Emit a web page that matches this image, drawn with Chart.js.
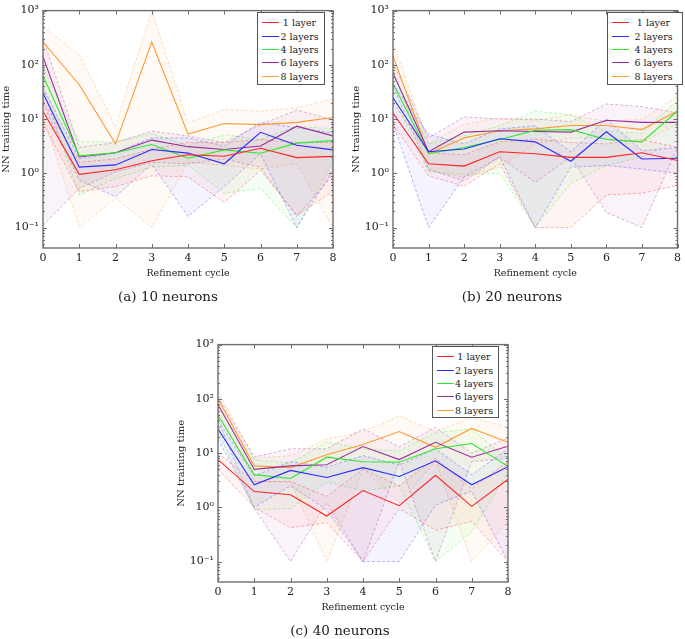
<!DOCTYPE html>
<html>
<head>
<meta charset="utf-8">
<script src="https://cdn.jsdelivr.net/npm/chart.js@4.4.1/dist/chart.umd.min.js"></script>
<style>
  body { margin: 0; background: #fff; width: 685px; height: 639px; position: relative; overflow: hidden; font-family: "DejaVu Serif", serif; color: #222; }
  canvas { position: absolute; }
  .cap { position: absolute; font-size: 13.5px; transform: translateX(-50%); white-space: nowrap; }
  .legend { position: absolute; border: 1px solid #555; background: #fff; font-size: 9.5px; box-sizing: border-box; padding: 3px 4px; }
  .legend .row { height: 13.4px; display: flex; align-items: center; }
  .legend .ln { width: 17px; height: 0; border-top: 1.2px solid; flex: none; }
  .legend .tx { flex: 1; text-align: center; }
</style>
</head>
<body>
<canvas id="c10" width="345" height="290" style="left:0;top:0"></canvas>
<canvas id="c20" width="335" height="290" style="left:350px;top:0"></canvas>
<canvas id="c40" width="345" height="290" style="left:175px;top:334px"></canvas>
<div class="cap" style="left:168px;top:288px">(a) 10 neurons</div>
<div class="cap" style="left:512px;top:288px">(b) 20 neurons</div>
<div class="cap" style="left:340px;top:622px">(c) 40 neurons</div>
<div class="legend" id="lg10" style="left:257px;top:12px;width:68px;height:73px"></div>
<div class="legend" id="lg20" style="left:607px;top:12px;width:76px;height:73px"></div>
<div class="legend" id="lg40" style="left:432px;top:346px;width:67px;height:72px"></div>
<script>
// refinement cycles on the x-axis
var cycles = [0, 1, 2, 3, 4, 5, 6, 7, 8];
var layerLabels = ["1 layer", "2 layers", "4 layers", "6 layers", "8 layers"];
var layerColors = ["#ff2424", "#2a2aff", "#2ee82e", "#9c2c9c", "#ff9a33"];
var yTickValues = [0.1, 1, 10, 100, 1000];

// 10 neurons: mean, lower and upper band per layer count
var mean10 = [
  [14, 0.96, 1.16, 1.7, 2.2, 2.06, 2.9, 1.95, 2.05],
  [30, 1.3, 1.43, 2.75, 2.36, 1.5, 5.7, 3.3, 2.7],
  [63, 2.1, 2.4, 3.4, 1.9, 2.7, 2.35, 3.6, 4.0],
  [141, 2.0, 2.4, 4.1, 3.1, 2.75, 3.2, 7.4, 4.9],
  [264, 43, 3.5, 264, 5.3, 8.3, 7.9, 8.7, 10.7]
];
var low10 = [
  [8.5, 0.46, 0.57, 0.9, 0.86, 0.29, 1.13, 0.17, 0.46],
  [19.5, 0.75, 0.37, 1.5, 0.16, 0.57, 2.3, 0.1, 1.13],
  [36, 0.4, 0.8, 1.3, 1.4, 0.43, 0.53, 0.1, 1.6],
  [0.11, 0.53, 1.06, 1.6, 1.5, 1.84, 1.3, 0.16, 0.92],
  [12, 0.1, 0.35, 0.1, 1.6, 1.4, 1.2, 1.5, 0.1]
];
var high10 = [
  [22, 1.6, 1.84, 2.8, 3.7, 3.7, 4.2, 3.7, 3.7],
  [39, 1.84, 2.4, 4.5, 4.5, 3.2, 8.7, 6.9, 5.6],
  [90, 3.8, 3.8, 5.35, 3.2, 5.2, 4.2, 7.4, 6.6],
  [310, 3.0, 3.7, 6.0, 4.9, 3.7, 7.9, 14.7, 9.7],
  [500, 155, 7.4, 1000, 8.5, 15, 14, 16, 24]
];

// 20 neurons
var mean20 = [
  [12.9, 1.5, 1.36, 2.5, 2.3, 1.97, 1.97, 2.4, 1.72],
  [24.7, 2.5, 2.8, 4.35, 3.8, 1.67, 5.85, 1.84, 1.9],
  [45, 2.3, 3.0, 4.2, 6.2, 6.4, 4.2, 3.8, 14.1],
  [70, 2.5, 5.75, 6.1, 5.9, 5.75, 9.5, 8.7, 8.7],
  [145, 2.3, 4.5, 6.1, 6.6, 7.6, 7.6, 6.4, 14.1]
];
var low20 = [
  [8, 0.9, 0.58, 1.5, 0.1, 0.1, 0.4, 0.43, 0.6],
  [8.5, 0.1, 0.85, 2.0, 0.1, 1.3, 1.4, 1.2, 1.0],
  [25, 1.1, 0.95, 1.0, 0.1, 0.65, 1.4, 2.0, 4.0],
  [40, 1.2, 0.72, 2.0, 0.68, 2.0, 0.19, 0.1, 3.0],
  [90, 1.1, 0.85, 1.3, 3.5, 4.5, 4.5, 3.8, 8]
];
var high20 = [
  [20, 2.4, 2.2, 3.8, 4.3, 3.7, 3.5, 4.2, 3.0],
  [45, 5.2, 3.5, 6.6, 7.5, 2.5, 10, 2.6, 3.0],
  [70, 3.5, 5, 7.5, 14, 12, 6, 5.5, 22],
  [110, 4.5, 11, 10, 10, 9, 19, 17, 13],
  [260, 3.5, 8, 10.5, 9.5, 12, 9, 10, 26]
];

// 40 neurons
var mean40 = [
  [7.6, 1.95, 1.7, 0.69, 2.04, 1.07, 3.9, 1.04, 3.3],
  [27.8, 2.6, 4.8, 3.55, 5.4, 3.7, 7.2, 2.6, 5.6],
  [50, 4.0, 3.4, 8.4, 6.9, 6.8, 12, 15, 5.7],
  [79, 5.0, 5.8, 6.1, 13.2, 7.6, 15.8, 8.4, 13.4],
  [101, 5.8, 5.4, 9.3, 14.4, 25, 12.8, 28.5, 15.8]
];
var low40 = [
  [5, 1.0, 0.42, 0.52, 0.1, 0.95, 0.38, 0.55, 0.1],
  [18, 1.0, 2.5, 0.9, 0.1, 0.1, 1.1, 2.0, 0.1],
  [25, 0.9, 0.95, 2.9, 2.0, 2.5, 0.1, 0.35, 4.5],
  [40, 0.95, 0.1, 1.2, 0.1, 7, 0.1, 7, 8],
  [60, 3.0, 2.9, 0.1, 5.0, 1.2, 7, 0.1, 0.55]
];
var high40 = [
  [10, 3.0, 3.0, 1.6, 5, 2.5, 8, 2.2, 7],
  [40, 3.8, 7, 5.5, 9, 6, 12, 4, 12],
  [70, 7.5, 6.5, 16, 12, 11, 24, 28, 7.5],
  [110, 8.5, 12, 12, 28, 13, 30, 10, 19],
  [140, 8, 9, 18, 25, 48, 25, 45, 30]
];

function rgba(hex, a) {
  var n = parseInt(hex.slice(1), 16);
  return "rgba(" + (n >> 16) + "," + ((n >> 8) & 255) + "," + (n & 255) + "," + a + ")";
}
function pts(arr) {
  return arr.map(function (v, i) { return { x: cycles[i], y: v }; });
}
var sup = { "-1": "10\u207B\u00B9", "0": "10\u2070", "1": "10\u00B9", "2": "10\u00B2", "3": "10\u00B3" };

// box round the plot with pgfplots-like inner ticks
var framePlugin = {
  id: "frame",
  afterDatasetsDraw: function (chart) {
    var ctx = chart.ctx, a = chart.chartArea, xs = chart.scales.x, ys = chart.scales.y;
    ctx.save();
    ctx.strokeStyle = "#6e6e6e";
    ctx.lineWidth = 1;
    ctx.beginPath();
    for (var d = -2; d <= 3; d++) {
      for (var k = 1; k <= 9; k++) {
        var v = k * Math.pow(10, d);
        if (v < ys.min || v > ys.max) continue;
        var py = Math.round(ys.getPixelForValue(v)) + 0.5;
        var len = k === 1 ? 4 : 2;
        ctx.moveTo(a.left, py); ctx.lineTo(a.left + len, py);
        ctx.moveTo(a.right, py); ctx.lineTo(a.right - len, py);
      }
    }
    cycles.forEach(function (c) {
      var px = Math.round(xs.getPixelForValue(c)) + 0.5;
      ctx.moveTo(px, a.bottom); ctx.lineTo(px, a.bottom - 4);
      ctx.moveTo(px, a.top); ctx.lineTo(px, a.top + 4);
    });
    ctx.stroke();
    ctx.lineWidth = 1.4;
    ctx.strokeRect(a.left, a.top, a.right - a.left, a.bottom - a.top);
    ctx.restore();
  }
};

function makeChart(id, mean, low, high, rightPad) {
  var datasets = [];
  for (var i = 0; i < 5; i++) {
    var c = layerColors[i];
    datasets.push({ data: pts(high[i]), borderColor: rgba(c, 0.35), borderDash: [3, 2], borderWidth: 1,
      backgroundColor: rgba(c, 0.05), fill: "+1", pointRadius: 0, order: 2 });
    datasets.push({ data: pts(low[i]), borderColor: rgba(c, 0.35), borderDash: [3, 2], borderWidth: 1,
      fill: false, pointRadius: 0, order: 2 });
  }
  for (var j = 0; j < 5; j++) {
    datasets.push({ label: layerLabels[j], data: pts(mean[j]), borderColor: layerColors[j], borderWidth: 1.1,
      fill: false, pointRadius: 0, order: 1 });
  }
  return new Chart(document.getElementById(id), {
    type: "line",
    data: { datasets: datasets },
    options: {
      responsive: false,
      animation: false,
      devicePixelRatio: 1,
      layout: { padding: { top: 5, right: rightPad, left: 0, bottom: 0 } },
      plugins: { legend: { display: false }, tooltip: { enabled: false } },
      scales: {
        x: {
          type: "linear", min: 0, max: 8,
          grid: { display: false, drawTicks: false }, border: { display: false },
          ticks: { stepSize: 1, padding: 4, color: "#222", font: { family: "DejaVu Serif", size: 11 } },
          title: { display: true, text: "Refinement cycle", color: "#222", padding: { top: 0, bottom: 11 },
            font: { family: "DejaVu Serif", size: 9.5 } },
          afterFit: function (s) { s.height = 42; }
        },
        y: {
          type: "logarithmic", min: 0.042, max: 1000, bounds: "data",
          grid: { display: false, drawTicks: false }, border: { display: false },
          afterBuildTicks: function (s) { s.ticks = yTickValues.map(function (v) { return { value: v }; }); },
          ticks: {
            padding: 4, color: "#222", font: { family: "DejaVu Serif", size: 11 },
            callback: function (v) { return sup[String(Math.round(Math.log10(v)))] || ""; }
          },
          title: { display: true, text: "NN training time", color: "#222", padding: { top: 0, bottom: 0 },
            font: { family: "DejaVu Serif", size: 10 } },
          afterFit: function (s) { s.width = 43; }
        }
      }
    },
    plugins: [framePlugin]
  });
}

function makeLegend(id) {
  var box = document.getElementById(id);
  layerLabels.forEach(function (lab, i) {
    var row = document.createElement("div");
    row.className = "row";
    var ln = document.createElement("span");
    ln.className = "ln";
    ln.style.borderTopColor = layerColors[i];
    var tx = document.createElement("span");
    tx.className = "tx";
    tx.textContent = lab;
    row.appendChild(ln); row.appendChild(tx);
    box.appendChild(row);
  });
}

makeChart("c10", mean10, low10, high10, 12);
makeChart("c20", mean20, low20, high20, 2);
makeChart("c40", mean40, low40, high40, 12);
makeLegend("lg10");
makeLegend("lg20");
makeLegend("lg40");
</script>
</body>
</html>
